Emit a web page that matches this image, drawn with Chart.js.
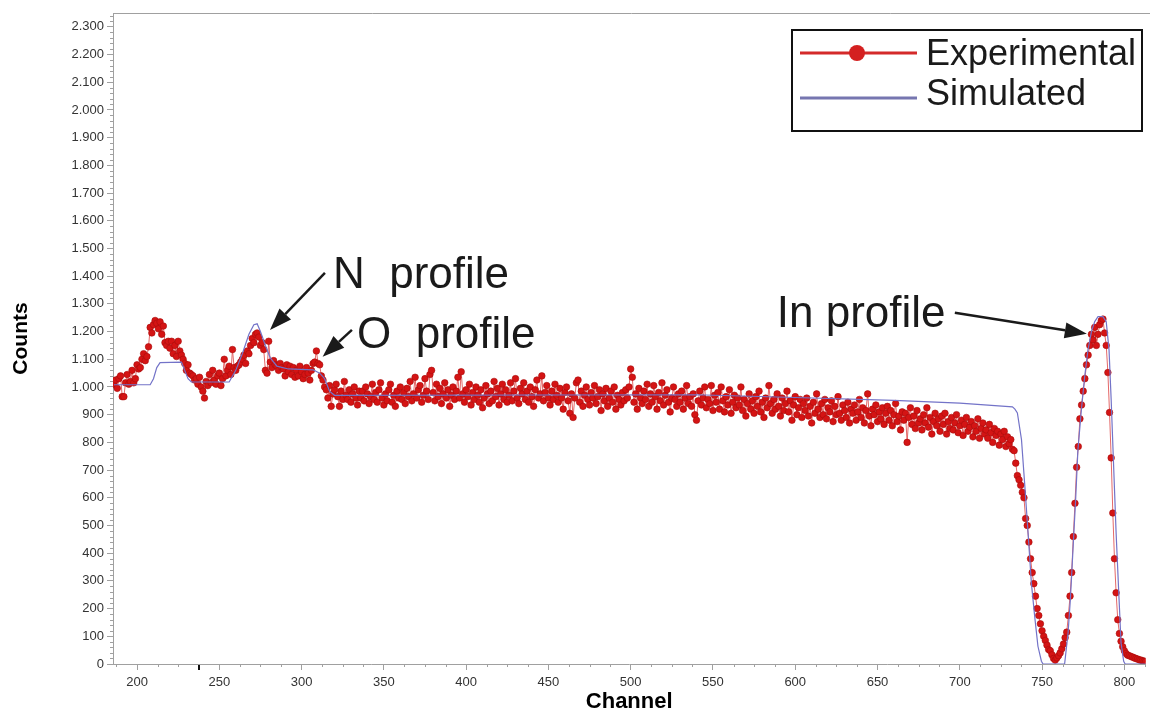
<!DOCTYPE html>
<html lang="en">
<head>
<meta charset="UTF-8">
<title>Counts vs Channel</title>
<script src="https://cdn.jsdelivr.net/npm/chart.js"></script>
<style>
  body { margin: 0; background: #fff; }
  #wrap { width: 1150px; height: 713px; }
</style>
</head>
<body>
<div id="wrap"><canvas id="spectrum" width="1150" height="713"></canvas></div>
<script>
// experimental counts, one per channel starting at expStart
const expStart = 186;
const expCounts = [
  1010, 1025, 995, 1030, 1040, 965, 965, 1015, 1045, 1010,      // 186
  1020, 1060, 1015, 1030, 1080, 1065, 1070, 1100, 1120, 1095,   // 196
  1110, 1145, 1215, 1195, 1225, 1240, 1230, 1210, 1235, 1190,   // 206
  1220, 1160, 1150, 1165, 1140, 1165, 1120, 1150, 1110, 1165,   // 216
  1130, 1115, 1100, 1085, 1060, 1080, 1050, 1045, 1040, 1025,   // 226
  1030, 1010, 1035, 1000, 985, 960, 1020, 1005, 1045, 1015,     // 236
  1060, 1025, 1010, 1040, 1050, 1005, 1030, 1100, 1040, 1060,   // 246
  1075, 1045, 1135, 1070, 1060, 1075, 1080, 1090, 1100, 1115,   // 256
  1085, 1130, 1120, 1150, 1175, 1160, 1190, 1195, 1180, 1150,   // 266
  1160, 1135, 1060, 1050, 1165, 1090, 1070, 1095, 1080, 1075,   // 276
  1060, 1085, 1070, 1065, 1040, 1080, 1055, 1075, 1045, 1070,   // 286
  1035, 1060, 1040, 1075, 1055, 1030, 1045, 1070, 1050, 1025,   // 296
  1060, 1085, 1090, 1130, 1085, 1080, 1040, 1025, 1000, 990,    // 306
  960, 1005, 930, 975, 990, 1010, 965, 930, 985, 955,           // 316
  1020, 970, 955, 990, 945, 975, 1000, 960, 935, 985,           // 326
  960, 985, 950, 1000, 975, 940, 965, 1010, 955, 980,           // 336
  945, 990, 1015, 960, 935, 975, 950, 990, 1010, 945,           // 346
  970, 930, 985, 960, 1000, 955, 980, 940, 995, 965,            // 356
  1020, 950, 975, 1035, 960, 990, 1005, 945, 970, 1030,         // 366
  985, 955, 1045, 1060, 980, 950, 1010, 965, 995, 940,          // 376
  975, 1015, 960, 990, 930, 970, 1000, 955, 985, 1035,          // 386
  960, 1055, 975, 945, 990, 965, 1010, 935, 980, 955,           // 396
  1000, 970, 945, 990, 925, 960, 1005, 975, 940, 985,           // 406
  950, 1020, 965, 995, 935, 975, 1010, 955, 990, 945,           // 416
  970, 1015, 950, 985, 1030, 960, 940, 995, 975, 1015,          // 426
  955, 985, 945, 1000, 965, 930, 990, 1025, 960, 975,           // 436
  1040, 950, 980, 1005, 960, 935, 985, 955, 1010, 970,          // 446
  945, 995, 960, 920, 980, 1000, 950, 905, 975, 890,            // 456
  960, 1015, 1025, 945, 985, 930, 970, 1000, 955, 935,          // 466
  980, 960, 1005, 940, 965, 990, 915, 975, 950, 995,            // 476
  930, 960, 985, 945, 1000, 920, 970, 955, 935, 980,            // 486
  950, 990, 960, 1000, 1065, 1035, 945, 975, 920, 995,          // 496
  960, 940, 985, 955, 1010, 930, 975, 945, 1005, 965,           // 506
  920, 980, 950, 1015, 935, 970, 990, 945, 910, 960,            // 516
  1000, 955, 930, 975, 945, 985, 920, 960, 1005, 940,           // 526
  965, 930, 975, 900, 880, 950, 985, 935, 960, 1000,            // 536
  925, 955, 940, 1005, 915, 970, 945, 980, 920, 1000,           // 546
  950, 910, 965, 935, 990, 905, 945, 970, 925, 960,             // 556
  935, 1000, 915, 955, 895, 940, 975, 920, 950, 905,            // 566
  965, 930, 985, 910, 945, 890, 960, 925, 1005, 940,            // 576
  905, 955, 920, 975, 930, 895, 960, 915, 940, 985,             // 586
  910, 950, 880, 935, 965, 900, 925, 955, 890, 940,             // 596
  915, 960, 895, 930, 870, 945, 905, 975, 920, 890,             // 606
  940, 900, 955, 885, 925, 910, 950, 875, 930, 900,             // 616
  965, 905, 880, 935, 915, 890, 945, 870, 920, 905,             // 626
  935, 880, 910, 955, 890, 925, 870, 915, 975, 895,             // 636
  860, 920, 900, 935, 875, 910, 885, 925, 865, 905,             // 646
  930, 880, 915, 860, 900, 940, 875, 895, 845, 910,             // 656
  880, 905, 800, 890, 925, 865, 895, 850, 915, 870,             // 666
  885, 845, 900, 870, 925, 855, 890, 830, 875, 905,             // 676
  860, 885, 840, 895, 865, 905, 830, 875, 850, 890,             // 686
  845, 870, 900, 835, 860, 880, 825, 865, 890, 840,             // 696
  855, 875, 820, 860, 840, 885, 815, 850, 870, 830,             // 706
  845, 815, 865, 835, 800, 850, 825, 840, 790, 830,             // 716
  810, 840, 785, 820, 795, 810, 775, 770, 725, 680,             // 726
  665, 645, 620, 600, 525, 500, 440, 380, 330, 290,             // 736
  245, 200, 175, 145, 120, 100, 85, 68, 52, 48,                 // 746
  33, 20, 14, 22, 30, 40, 55, 72, 95, 115,                      // 756
  175, 245, 330, 460, 580, 710, 785, 885, 935, 985,             // 766
  1030, 1080, 1115, 1150, 1190, 1170, 1215, 1150, 1190, 1225,   // 776
  1240, 1245, 1195, 1150, 1052, 908, 744, 545, 380, 257,        // 786
  160, 110, 82, 62, 48, 38, 32, 30, 27, 25,                     // 796
  22, 20, 18, 15, 14, 12, 10, 10, 8, 8                          // 806
];

// simulated curve
const simChannels = [186, 208, 210, 212, 214, 227, 229, 231, 233, 256, 260, 264, 268, 271, 273, 275, 278, 281, 285, 292,
  307, 311, 314, 317, 320, 540, 600, 660, 700, 732, 733.5, 735, 737.5, 739.4, 741.5, 743.5, 745.5, 747.5, 749.6, 750.6,
  763.7, 765.8, 767.2, 768.8, 770.4, 771.8, 773.9, 775.9, 777.9, 780, 782, 784, 787, 789, 790.7, 792, 793.5, 795, 796.8, 798,
  799.6, 800.5, 815.4];
const simCounts = [1008, 1008, 1030, 1070, 1088, 1090, 1060, 1030, 1018, 1018, 1060, 1120, 1190, 1225, 1228, 1200, 1150, 1105, 1075, 1065,
  1062, 1050, 1030, 985, 970, 972, 962, 952, 942, 928, 920, 906, 810, 653, 473, 293, 173, 64, 10, 0,
  0, 112, 233, 413, 593, 774, 918, 1038, 1134, 1200, 1236, 1254, 1254, 1236, 1134, 954, 713, 473, 233, 76,
  10, 0, 0];

const xTicks = [200, 250, 300, 350, 400, 450, 500, 550, 600, 650, 700, 750, 800];
const yTicks = [0, 100, 200, 300, 400, 500, 600, 700, 800, 900, 1000, 1100, 1200, 1300, 1400, 1500, 1600, 1700, 1800, 1900, 2000, 2100, 2200, 2300];
const seriesNames = ['Experimental', 'Simulated'];

const FONT = "'Liberation Sans', Arial, sans-serif";

// labels with arrows, in channel / counts units
const notes = [
  { text: 'N  profile', at: [319.1, 1358], from: [314.2, 1412], to: [280.8, 1206] },
  { text: 'O  profile', at: [333.7, 1141], from: [330.6, 1206], to: [312.8, 1109] },
  { text: 'In profile', at: [588.8, 1217], from: [697, 1268], to: [777.2, 1192] }
];

function fmtCount(v) {
  if (v < 1000) return String(v);
  return Math.floor(v / 1000) + '.' + String(v % 1000).padStart(3, '0');
}

function arrow(ctx, x1, y1, x2, y2) {
  const ang = Math.atan2(y2 - y1, x2 - x1);
  const hl = 22, hw = 8;
  const bx = x2 - hl * Math.cos(ang), by = y2 - hl * Math.sin(ang);
  ctx.beginPath();
  ctx.moveTo(x1, y1);
  ctx.lineTo(bx, by);
  ctx.stroke();
  ctx.beginPath();
  ctx.moveTo(x2, y2);
  ctx.lineTo(bx + hw * Math.sin(ang), by - hw * Math.cos(ang));
  ctx.lineTo(bx - hw * Math.sin(ang), by + hw * Math.cos(ang));
  ctx.closePath();
  ctx.fill();
}

const extras = {
  id: 'extras',
  afterDraw(chart) {
    const { ctx, chartArea: a, scales: { x, y } } = chart;
    ctx.save();

    // top frame line + minor ticks
    ctx.strokeStyle = '#a0a0a0';
    ctx.lineWidth = 1;
    ctx.beginPath();
    ctx.moveTo(a.left, a.top + 0.5);
    ctx.lineTo(chart.width, a.top + 0.5);
    for (let v = 20; v < 2350; v += 20) {
      if (v % 100 === 0) continue;
      const py = Math.round(y.getPixelForValue(v)) + 0.5;
      ctx.moveTo(a.left - 3, py);
      ctx.lineTo(a.left, py);
    }
    for (let v = 187.5; v < 815; v += 12.5) {
      if (v % 50 === 0) continue;
      const px = Math.round(x.getPixelForValue(v)) + 0.5;
      ctx.moveTo(px, a.bottom);
      ctx.lineTo(px, a.bottom + 3);
    }
    ctx.stroke();
    const mk = Math.round(x.getPixelForValue(237.5));
    ctx.fillStyle = '#111';
    ctx.fillRect(mk - 1, a.bottom + 1, 2, 5);

    // annotations
    ctx.fillStyle = '#1a1a1a';
    ctx.strokeStyle = '#1a1a1a';
    ctx.lineWidth = 2.5;
    ctx.font = '44px ' + FONT;
    ctx.textBaseline = 'alphabetic';
    ctx.textAlign = 'left';
    notes.forEach(n => {
      ctx.fillText(n.text, x.getPixelForValue(n.at[0]), y.getPixelForValue(n.at[1]));
      arrow(ctx, x.getPixelForValue(n.from[0]), y.getPixelForValue(n.from[1]),
                 x.getPixelForValue(n.to[0]), y.getPixelForValue(n.to[1]));
    });

    // legend box
    ctx.fillStyle = '#fff';
    ctx.fillRect(792, 30, 350, 101);
    ctx.strokeStyle = '#111';
    ctx.lineWidth = 2;
    ctx.strokeRect(792, 30, 350, 101);
    ctx.lineWidth = 3;
    ctx.strokeStyle = '#d42a2a';
    ctx.beginPath(); ctx.moveTo(800, 53); ctx.lineTo(917, 53); ctx.stroke();
    ctx.fillStyle = '#d42020';
    ctx.beginPath(); ctx.arc(857, 53, 8, 0, Math.PI * 2); ctx.fill();
    ctx.strokeStyle = '#7676b0';
    ctx.beginPath(); ctx.moveTo(800, 98); ctx.lineTo(917, 98); ctx.stroke();
    ctx.fillStyle = '#1a1a1a';
    ctx.font = '36px ' + FONT;
    ctx.fillText(seriesNames[0], 926, 65);
    ctx.fillText(seriesNames[1], 926, 105);

    ctx.restore();
  }
};

const expData = expCounts.map((c, i) => ({ x: expStart + i, y: c }));
const simData = simChannels.map((c, i) => ({ x: c, y: simCounts[i] }));

new Chart(document.getElementById('spectrum'), {
  type: 'line',
  data: {
    datasets: [
      {
        label: seriesNames[1],
        data: simData,
        borderColor: '#7373c8',
        borderWidth: 1.2,
        pointRadius: 0,
        order: 0
      },
      {
        label: seriesNames[0],
        data: expData,
        borderColor: '#e46868',
        borderWidth: 1,
        pointRadius: 3.3,
        pointBackgroundColor: '#d41414',
        pointBorderColor: '#a80c0c',
        pointBorderWidth: 0.6,
        order: 1
      }
    ]
  },
  options: {
    responsive: false,
    animation: false,
    layout: { padding: { top: 13, left: 0, right: 0, bottom: 0 } },
    plugins: {
      legend: { display: false },
      tooltip: { enabled: false }
    },
    scales: {
      x: {
        type: 'linear',
        min: 185.4,
        max: 812.8,
        afterBuildTicks: s => { s.ticks = xTicks.map(v => ({ value: v })); },
        afterFit: s => { s.height = 49; },
        grid: { drawOnChartArea: false, tickLength: 6, color: '#a0a0a0' },
        border: { color: '#a0a0a0' },
        ticks: { color: '#333', font: { family: FONT, size: 13 }, padding: 5, maxRotation: 0, autoSkip: false },
        title: { display: true, text: 'Channel', color: '#000', padding: 0,
                 font: { family: FONT, size: 22, weight: 'bold', lineHeight: 1 } }
      },
      y: {
        min: 0,
        max: 2350,
        afterBuildTicks: s => { s.ticks = yTicks.map(v => ({ value: v })); },
        afterFit: s => { s.width = 113; },
        grid: { drawOnChartArea: false, tickLength: 6, color: '#a0a0a0' },
        border: { color: '#a0a0a0' },
        ticks: { color: '#333', font: { family: FONT, size: 13 }, padding: 3, autoSkip: false, callback: v => fmtCount(v) },
        title: { display: true, text: 'Counts', color: '#000', padding: { top: 9, bottom: 0 },
                 font: { family: FONT, size: 21, weight: 'bold' } }
      }
    }
  },
  plugins: [extras]
});
</script>
</body>
</html>
